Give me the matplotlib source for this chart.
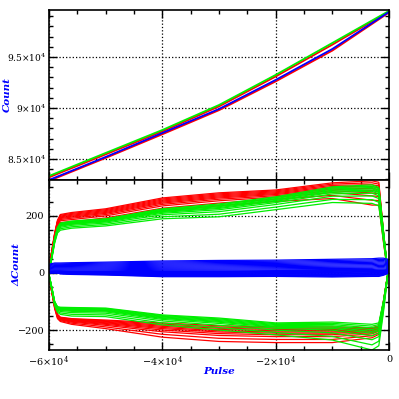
import matplotlib
matplotlib.use("Agg")
import matplotlib.pyplot as plt
from matplotlib.ticker import MultipleLocator, FuncFormatter

plt.rcParams['mathtext.fontset'] = 'dejavuserif'
plt.rcParams['font.family'] = 'DejaVu Serif'

# top panel: count vs pulse
pulse_top = [-60000, -50000, -40000, -30000, -20000, -10000, 0]
count_green = [83330, 85590, 87840, 90290, 93240, 96370, 99510]
count_blue = [82940, 85200, 87550, 89900, 92750, 95780, 99410]
count_red_a = [83200, 85450, 87700, 90150, 93080, 96200, 99450]
count_red_b = [82850, 85100, 87420, 89780, 92600, 95620, 99350]

# bottom panel: delta count loops (branch nodes, band edge + band width)
pulse_loop = [-60000, -59500, -59000, -58500, -58000, -56000, -50000, -40000,
              -30000, -20000, -10000, -3000, -1800, -1000, -200]

red_up = [20, 80, 140, 185, 205, 212, 225, 263, 281, 291, 316, 323, 318, 150, 0]
red_up_w = [10, 20, 25, 30, 35, 40, 40, 45, 45, 40, 55, 85, 80, 40, 5]
red_dn = [-10, -60, -110, -145, -155, -160, -165, -175, -185, -189, -189, -192, -185, -100, 0]
red_dn_w = [5, 10, 15, 15, 15, 20, 30, 50, 55, 55, 55, 35, 30, 20, 5]
red_frac = [0, 0.08, 0.16, 0.24, 0.32, 0.4, 0.5, 0.62, 0.8, 1.0]

green_up = [10, 60, 120, 160, 175, 182, 190, 225, 242, 267, 302, 309, 300, 150, 0]
green_up_w = [5, 10, 15, 20, 25, 25, 25, 35, 45, 45, 55, 65, 65, 35, 5]
green_dn = [-5, -50, -100, -118, -120, -121, -123, -147, -158, -175, -172, -180, -175, -100, 0]
green_dn_w = [5, 10, 15, 20, 25, 30, 30, 35, 42, 42, 63, 90, 80, 40, 5]
green_frac = [0, 0.07, 0.14, 0.21, 0.28, 0.35, 0.45, 0.6, 0.8, 1.0]

blue_up = [30, 33, 35, 35, 35, 36, 38, 42, 44, 45, 48, 50, 52, 52, 48]
blue_up_w = [25, 28, 30, 30, 30, 32, 34, 36, 38, 38, 40, 42, 42, 42, 40]
blue_dn = [5, 5, 5, 5, 5, 5, 5, 5, 5, 8, 8, 10, 10, 10, 10]
blue_dn_w = [5, 5, 5, 5, 8, 10, 12, 18, 18, 20, 22, 22, 22, 18, 12]
blue_frac = [0, 0.1, 0.2, 0.3, 0.4, 0.5, 0.6, 0.7, 0.8, 0.9, 1.0]


def sci(v, pos):
    if v == 0:
        return '0'
    m = v / 1e4
    s = ('%g' % m).replace('-', '\u2212')
    return r'$%s{\times}10^{4}$' % s


fig = plt.figure(figsize=(3.99, 3.99), dpi=100)
ax1 = fig.add_axes([0.1228, 0.5489, 0.8522, 0.4261])
ax2 = fig.add_axes([0.1228, 0.1228, 0.8522, 0.4261], sharex=ax1)

ax1.plot(pulse_top, count_red_a, color='red', lw=1.3)
ax1.plot(pulse_top, count_green, color='#00ee00', lw=1.3)
ax1.plot(pulse_top, count_red_b, color='red', lw=1.3)
ax1.plot(pulse_top, count_blue, color='blue', lw=1.3)

def draw_loops(up, up_w, dn, dn_w, fracs, color):
    for f in fracs:
        yu = [u - f * w for u, w in zip(up, up_w)]
        yd = [d - f * w for d, w in zip(dn, dn_w)]
        xs = pulse_loop + pulse_loop[::-1] + [pulse_loop[0]]
        ys = yu + yd[::-1] + [yu[0]]
        ax2.plot(xs, ys, color=color, lw=0.9)

draw_loops(red_up, red_up_w, red_dn, red_dn_w, red_frac, 'red')
draw_loops(green_up, green_up_w, green_dn, green_dn_w, green_frac, '#00ee00')
draw_loops(blue_up, blue_up_w, blue_dn, blue_dn_w, blue_frac, 'blue')

ax1.set_xlim(-60000, 0)
ax1.set_ylim(82940, 99600)
ax2.set_ylim(-270, 326)

for ax in (ax1, ax2):
    ax.xaxis.set_major_locator(MultipleLocator(20000))
    ax.xaxis.set_minor_locator(MultipleLocator(5000))
    ax.tick_params(which='both', direction='in', top=True, right=True,
                   labelsize=7, width=1)
    ax.tick_params(which='major', length=6)
    ax.tick_params(which='minor', length=3)
    ax.grid(True, which='major', color='black', ls=':', lw=0.9)
    for sp in ax.spines.values():
        sp.set_linewidth(1.2)

ax1.yaxis.set_major_locator(MultipleLocator(5000))
ax1.yaxis.set_minor_locator(MultipleLocator(1000))
ax1.yaxis.set_major_formatter(FuncFormatter(sci))
ax1.tick_params(labelbottom=False)
ax1.tick_params(axis='y', labelsize=6.5, pad=2)

ax2.yaxis.set_major_locator(MultipleLocator(200))
ax2.yaxis.set_minor_locator(MultipleLocator(50))
ax2.yaxis.set_major_formatter(FuncFormatter(lambda v, p: ('%d' % v).replace('-', '\u2212')))
ax2.xaxis.set_major_formatter(FuncFormatter(sci))

lab = dict(color='blue', fontsize=7.5, fontstyle='italic', fontweight='bold')
ax1.set_ylabel('Count', **lab)
ax2.set_ylabel('\u0394Count', **lab)
ax2.set_xlabel('Pulse', **lab)
ax1.yaxis.set_label_coords(-0.11, 0.5)
ax2.yaxis.set_label_coords(-0.08, 0.5)
ax2.xaxis.set_label_coords(0.5, -0.1)

fig.savefig('out.png', dpi=100)
